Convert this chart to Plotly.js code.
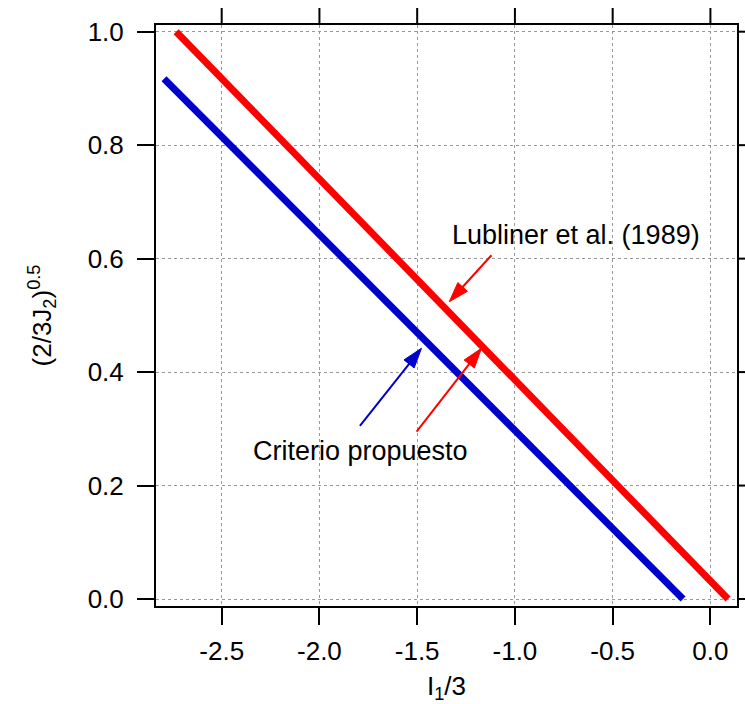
<!DOCTYPE html>
<html>
<head>
<meta charset="utf-8">
<script src="https://cdn.plot.ly/plotly-3.0.1.min.js"></script>
<style>
  html, body { margin: 0; padding: 0; background: #fff; }
  #chart { width: 745px; height: 704px; }
</style>
</head>
<body>
<div id="chart"></div>
<script>
// Yield surfaces in the meridian plane: (2/3 J2)^0.5 against I1/3
const lublinerI1 = [-2.733, 0.09];
const lublinerJ2 = [1.0, 0.0];
const propuestoI1 = [-2.795, -0.14];
const propuestoJ2 = [0.917, 0.0];

const xTicks = [-2.5, -2.0, -1.5, -1.0, -0.5, 0.0];
const yTicks = [0.0, 0.2, 0.4, 0.6, 0.8, 1.0];

// Label anchors and pointer arrows (tail -> head) in data units
const lublinerLabel = {text: 'Lubliner et al. (1989)', x: -0.689, y: 0.642};
const propuestoLabel = {text: 'Criterio propuesto', x: -1.788, y: 0.261};
const arrowsRed = [
  {tail: [-1.120, 0.606], head: [-1.336, 0.524]},
  {tail: [-1.503, 0.295], head: [-1.171, 0.442]}
];
const arrowsBlue = [
  {tail: [-1.793, 0.305], head: [-1.478, 0.442]}
];

const RED = '#ff0000';
const BLUE = '#0000cc';
const FONT = 'Liberation Sans, Arial, sans-serif';

const W = 745, H = 704;
const M = {l: 156, r: 8, t: 25, b: 98};
const TICKLEN = 17;

const traces = [
  {x: lublinerI1, y: lublinerJ2, mode: 'lines', line: {color: RED, width: 7}, hoverinfo: 'skip'},
  {x: propuestoI1, y: propuestoJ2, mode: 'lines', line: {color: BLUE, width: 7}, hoverinfo: 'skip'}
];

// each pointer: a thin shaft with an arrow marker at the head, oriented along the shaft
function pointer(a, color) {
  return {
    x: [a.tail[0], a.head[0]], y: [a.tail[1], a.head[1]],
    mode: 'lines+markers', hoverinfo: 'skip',
    line: {color: color, width: 2},
    marker: {symbol: 'arrow', size: [0, 21], color: color, opacity: 1,
             angleref: 'previous', line: {width: 1, color: color}}
  };
}
arrowsRed.forEach(a => traces.push(pointer(a, RED)));
arrowsBlue.forEach(a => traces.push(pointer(a, BLUE)));

const annotations = [
  {x: lublinerLabel.x, y: lublinerLabel.y, xref: 'x', yref: 'y', text: lublinerLabel.text,
   showarrow: false, font: {family: FONT, size: 27, color: '#000'}},
  {x: propuestoLabel.x, y: propuestoLabel.y, xref: 'x', yref: 'y', text: propuestoLabel.text,
   showarrow: false, font: {family: FONT, size: 27, color: '#000'}}
];

// outward tick marks along the top and right frame edges
const plotW = W - M.l - M.r, plotH = H - M.t - M.b;
const edgeTicks = [];
xTicks.forEach(v => edgeTicks.push({
  type: 'line', xref: 'x', yref: 'paper', x0: v, x1: v, y0: 1, y1: 1 + TICKLEN / plotH,
  line: {color: '#000', width: 2}, layer: 'above'
}));
yTicks.forEach(v => edgeTicks.push({
  type: 'line', xref: 'paper', yref: 'y', y0: v, y1: v, x0: 1, x1: 1 + TICKLEN / plotW,
  line: {color: '#000', width: 2}, layer: 'above'
}));

const axisCommon = {
  showline: true, linecolor: '#000', linewidth: 2, mirror: true,
  ticks: 'outside', ticklen: TICKLEN, tickwidth: 2, tickcolor: '#000',
  showgrid: true, gridcolor: '#999', griddash: 'dot', gridwidth: 1,
  zeroline: false, tickfont: {family: FONT, size: 26, color: '#000'},
  automargin: false
};

const layout = {
  width: W, height: H,
  margin: M,
  paper_bgcolor: '#fff', plot_bgcolor: '#fff',
  showlegend: false,
  font: {family: FONT, color: '#000'},
  xaxis: Object.assign({}, axisCommon, {
    range: [-2.836, 0.136], tickvals: xTicks, ticktext: xTicks.map(v => v.toFixed(1)),
    ticklabelstandoff: 4,
    title: {text: 'I<sub>1</sub>/3', font: {family: FONT, size: 26, color: '#000'}, standoff: 14}
  }),
  yaxis: Object.assign({}, axisCommon, {
    range: [-0.0123, 1.0118], tickvals: yTicks, ticktext: yTicks.map(v => v.toFixed(1)),
    ticklabelstandoff: 8,
    title: {text: '(2/3J<sub>2</sub>)<sup>0.5</sup>', font: {family: FONT, size: 26, color: '#000'}, standoff: 29}
  }),
  shapes: edgeTicks,
  annotations: annotations
};

Plotly.newPlot('chart', traces, layout, {staticPlot: true, displayModeBar: false});
</script>
</body>
</html>
